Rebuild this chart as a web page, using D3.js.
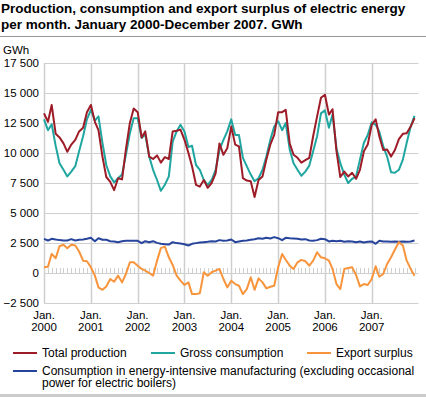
<!DOCTYPE html>
<html>
<head>
<meta charset="utf-8">
<script src="https://cdn.jsdelivr.net/npm/d3@7"></script>
<style>
  body { margin: 0; background: #fff; }
  text { font-family: "Liberation Sans", Arial, sans-serif; fill: #000; }
</style>
</head>
<body>
<div id="chart"></div>
<script>
// Monthly values, January 2000 - December 2007 (GWh)
const years = [2000, 2001, 2002, 2003, 2004, 2005, 2006, 2007];
const yTicks = [-2500, 0, 2500, 5000, 7500, 10000, 12500, 15000, 17500];

const totalProduction = [
  13300, 12600, 14000, 11600, 11300, 10800, 10100, 10700, 11100, 11800, 12100, 13400,
  14000, 12600, 11900, 9700, 8000, 7600, 6900, 7900, 7800, 10300, 12500, 13700,
  13400, 11300, 11800, 9700, 9500, 9800, 9200, 9650, 9500, 11800, 11850, 11950,
  11100, 10000, 8900, 7350, 7200, 7750, 7100, 7500, 8300, 10800, 9850, 10400,
  12200, 10700, 10550, 7900, 7700, 7650, 6330, 7750, 8050, 9450, 10700, 11500,
  13400, 13400, 13600, 10800, 9850, 9600, 9200, 9400, 9600, 11400, 13050, 14600,
  14850, 13200, 13650, 10150, 8000, 8450, 8050, 8350, 7850, 8600, 10150, 10700,
  12350, 12800, 11400, 10250, 10300, 9700, 10250, 11150, 11600, 11650, 12200, 12900
];
const grossConsumption = [
  12800, 11900, 12400, 10600, 9150, 8600, 8050, 8450, 8900, 10150, 11400, 12800,
  13600, 12700, 13050, 10850, 9000, 8050, 7550, 7900, 8200, 9850, 11650, 12900,
  12900, 11250, 11550, 9700, 8600, 7750, 6850, 7350, 8050, 10950, 11800, 12350,
  11800, 10500, 10600, 9000, 8600, 7750, 7350, 7750, 8600, 10250, 11100, 11800,
  12800, 11500, 11500, 9600, 8900, 8200, 7650, 7900, 8600, 9700, 11100, 12200,
  12650, 11900, 12500, 10300, 9150, 8600, 8100, 8450, 8950, 10150, 11400, 13300,
  13550, 12100, 13200, 10400, 9150, 8200, 7500, 7850, 8050, 9450, 10850, 11500,
  12550, 12350, 11800, 10550, 9700, 8400, 8350, 8600, 9450, 10850, 12200, 13100
];
const exportSurplus = [
  480, 530, 1600, 1230, 2230, 2350, 2070, 2350, 2290, 1790, 1030, 980,
  480, -220, -1200, -1400, -1120, -500, -730, -220, -780, -80, 890, 890,
  610, 340, 200, 0, -220, 1030, 2070, 2200, 1310, 670, -220, -640,
  -1000, -780, -1760, -1760, -1680, 60, -220, 60, 200, 340, -500, -1200,
  -640, -920, -1060, -1760, -1340, -360, -1400, -450, -780, -1280, -1150, -1060,
  480, 1590, 1100, 610, 340, 890, 1090, 980, 610, 1030, 1730, 1310,
  1230, 1030, 340, -920, -1340, 340, 420, 480, -170, -1120, -920, -1000,
  -500, 560, -310, -80, 750, 1310, 1960, 2570, 2290, 1030, 340, -220
];
const energyIntensive = [
  2850, 2710, 2850, 2790, 2740, 2710, 2710, 2820, 2710, 2770, 2790, 2850,
  2930, 2650, 2900, 2770, 2770, 2650, 2630, 2570, 2650, 2680, 2680, 2680,
  2680, 2490, 2650, 2570, 2650, 2510, 2430, 2400, 2370, 2570, 2490, 2460,
  2400, 2290, 2430, 2490, 2540, 2570, 2600, 2650, 2630, 2740, 2680, 2710,
  2790, 2570, 2630, 2680, 2710, 2770, 2820, 2900, 2850, 2930, 2880, 2990,
  2900, 2740, 2930, 2900, 2880, 2850, 2790, 2820, 2710, 2680, 2740, 2850,
  2820, 2630, 2680, 2650, 2680, 2600, 2650, 2630, 2570, 2630, 2540, 2600,
  2630, 2430, 2680, 2630, 2630, 2600, 2630, 2600, 2630, 2600, 2630, 2710
];

const months = d3.timeMonth.range(new Date(2000, 0, 1), new Date(2008, 0, 1));

const series = [
  { name: "Energy-intensive", values: energyIntensive, color: "#27449c" },
  { name: "Export surplus", values: exportSurplus, color: "#f7943c" },
  { name: "Gross consumption", values: grossConsumption, color: "#1fa6a0" },
  { name: "Total production", values: totalProduction, color: "#9d1c27" }
];

const width = 426, height = 397;
const svg = d3.select("#chart").append("svg")
  .attr("width", width)
  .attr("height", height);

// Title
const title = svg.append("text")
  .attr("x", 1)
  .attr("font-size", "13.5px")
  .attr("font-weight", "bold");
title.append("tspan").attr("x", 1).attr("y", 13)
  .text("Production, consumption and export surplus of electric energy");
title.append("tspan").attr("x", 1).attr("y", 29)
  .text("per month. January 2000-December 2007. GWh");

svg.append("line")
  .attr("x1", 0).attr("x2", width)
  .attr("y1", 36.5).attr("y2", 36.5)
  .attr("stroke", "#999").attr("stroke-width", 1);

// Scales
const x = d3.scaleTime()
  .domain([new Date(2000, 0, 1), new Date(2008, 0, 1)])
  .range([44, 418.5]);
const y = d3.scaleLinear()
  .domain([-2500, 17500])
  .range([303, 63]);

// Unit label
svg.append("text")
  .attr("x", 3).attr("y", 53.5)
  .attr("font-size", "11.5px")
  .text("GWh");

// Horizontal grid + y labels
const gridColor = "#cfcfcf";
svg.append("g").selectAll("line")
  .data(yTicks)
  .join("line")
  .attr("x1", x.range()[0]).attr("x2", x.range()[1])
  .attr("y1", d => Math.round(y(d)) + 0.5)
  .attr("y2", d => Math.round(y(d)) + 0.5)
  .attr("stroke", gridColor);

svg.append("g").selectAll("text")
  .data(yTicks)
  .join("text")
  .attr("x", 39)
  .attr("y", d => y(d))
  .attr("dy", "0.35em")
  .attr("text-anchor", "end")
  .attr("font-size", "11.5px")
  .text(d => d3.format(",")(d).replace(/,/g, " ").replace("-", "-"));

// Vertical gridlines at every January
const janDates = years.map(yr => new Date(yr, 0, 1));
svg.append("g").selectAll("line")
  .data(janDates)
  .join("line")
  .attr("x1", d => Math.round(x(d)) + 0.5)
  .attr("x2", d => Math.round(x(d)) + 0.5)
  .attr("y1", y(17500)).attr("y2", y(-2500))
  .attr("stroke", gridColor)
  .attr("stroke-width", 1.5);

// Small month ticks on the zero line
svg.append("g").selectAll("line")
  .data(months.filter(d => d.getMonth() !== 0))
  .join("line")
  .attr("x1", d => Math.round(x(d)) + 0.5)
  .attr("x2", d => Math.round(x(d)) + 0.5)
  .attr("y1", y(0) - 5).attr("y2", y(0))
  .attr("stroke", gridColor);

// X labels
const xl = svg.append("g").selectAll("text")
  .data(janDates)
  .join("text")
  .attr("text-anchor", "middle")
  .attr("font-size", "11.5px");
xl.append("tspan").attr("x", d => x(d)).attr("y", 319).text("Jan.");
xl.append("tspan").attr("x", d => x(d)).attr("y", 331).text(d => d.getFullYear());

// Lines
const line = d3.line()
  .x((d, i) => x(months[i]))
  .y(d => y(d));

svg.append("g").selectAll("path")
  .data(series)
  .join("path")
  .attr("fill", "none")
  .attr("stroke", d => d.color)
  .attr("stroke-width", 2)
  .attr("stroke-linejoin", "round")
  .attr("d", d => line(d.values));

// Legend
const legendItems = [
  { label: ["Total production"], color: "#9d1c27", x: 13, y: 353 },
  { label: ["Gross consumption"], color: "#1fa6a0", x: 151, y: 353 },
  { label: ["Export surplus"], color: "#f7943c", x: 307, y: 353 },
  { label: ["Consumption in energy-intensive manufacturing (excluding occasional",
            "power for electric boilers)"], color: "#27449c", x: 13, y: 371 }
];
const lg = svg.append("g").selectAll("g")
  .data(legendItems)
  .join("g")
  .attr("transform", d => `translate(${d.x},${d.y})`);
lg.append("line")
  .attr("x1", 0).attr("x2", 24)
  .attr("stroke", d => d.color)
  .attr("stroke-width", 2);
const lt = lg.append("text")
  .attr("font-size", "12px");
lt.selectAll("tspan")
  .data(d => d.label)
  .join("tspan")
  .attr("x", 29)
  .attr("y", (d, i) => 4 + i * 12)
  .text(d => d);

// Bottom rule
svg.append("line")
  .attr("x1", 0).attr("x2", width)
  .attr("y1", 395.5).attr("y2", 395.5)
  .attr("stroke", "#cccccc").attr("stroke-width", 3);
</script>
</body>
</html>
